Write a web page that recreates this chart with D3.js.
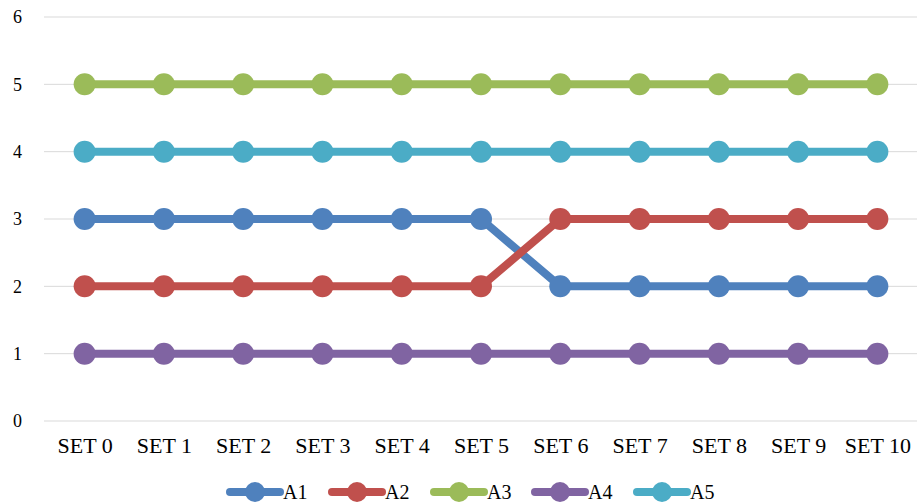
<!DOCTYPE html>
<html>
<head>
<meta charset="utf-8">
<script src="https://cdn.jsdelivr.net/npm/d3@7"></script>
<style>
  body { margin: 0; background: #fff; }
  svg text { font-family: 'Liberation Serif', 'Times New Roman', Times, serif; }
</style>
</head>
<body>
<svg id="chart"></svg>
<script>
const categories = ['SET 0','SET 1','SET 2','SET 3','SET 4','SET 5','SET 6','SET 7','SET 8','SET 9','SET 10'];
const seriesNames = ['A1','A2','A3','A4','A5'];
const a1 = [3,3,3,3,3,3,2,2,2,2,2];
const a2 = [2,2,2,2,2,2,3,3,3,3,3];
const a3 = [5,5,5,5,5,5,5,5,5,5,5];
const a4 = [1,1,1,1,1,1,1,1,1,1,1];
const a5 = [4,4,4,4,4,4,4,4,4,4,4];
const yTicks = [0,1,2,3,4,5,6];
const colors = ['#4F81BD','#C0504D','#9BBB59','#8064A2','#4BACC6'];

const series = [a1,a2,a3,a4,a5].map((v,i) => ({name: seriesNames[i], values: v, color: colors[i]}));

const w = 917, h = 504;
const plotLeft = 45, plotRight = 917, plotTop = 17, plotBottom = 421;
const serif = "'Liberation Serif', 'Times New Roman', serif";

const svg = d3.select('#chart').attr('width', w).attr('height', h)
  .attr('font-family', serif);

const x = d3.scalePoint().domain(categories).range([plotLeft, plotRight]).padding(0.5);
const y = d3.scaleLinear().domain([0, 6]).range([plotBottom, plotTop]);

// gridlines
svg.append('g').selectAll('line')
  .data(yTicks)
  .enter().append('line')
  .attr('x1', plotLeft - 1).attr('x2', plotRight)
  .attr('y1', d => y(d)).attr('y2', d => y(d))
  .attr('stroke', '#d9d9d9').attr('stroke-width', 1);

// y axis labels
const yAxis = d3.axisLeft(y).tickValues(yTicks).tickSize(0).tickPadding(0).tickFormat(d3.format('d'));
svg.append('g')
  .attr('transform', 'translate(22,0)')
  .call(yAxis)
  .attr('font-family', serif)
  .call(g => g.select('.domain').remove())
  .selectAll('text')
  .attr('font-size', 18).attr('fill', '#000');

// x axis labels
const xAxis = d3.axisBottom(x).tickSize(0).tickPadding(0);
svg.append('g')
  .attr('transform', `translate(0,${plotBottom + 16})`)
  .call(xAxis)
  .attr('font-family', serif)
  .call(g => g.select('.domain').remove())
  .selectAll('text')
  .attr('font-size', 22).attr('fill', '#000');

// lines and markers
const line = d3.line().x((d,i) => x(categories[i])).y(d => y(d));
series.forEach(s => {
  const g = svg.append('g');
  g.append('path')
    .attr('d', line(s.values))
    .attr('fill', 'none')
    .attr('stroke', s.color)
    .attr('stroke-width', 8)
    .attr('stroke-linejoin', 'round');
  g.selectAll('circle')
    .data(s.values)
    .enter().append('circle')
    .attr('cx', (d,i) => x(categories[i]))
    .attr('cy', d => y(d))
    .attr('r', 11)
    .attr('fill', s.color);
});

// legend
const legendX = [227, 329, 431, 532, 634];
const legendY = 492;
const lg = svg.append('g');
series.forEach((s, i) => {
  const gx = legendX[i];
  lg.append('line')
    .attr('x1', gx + 3).attr('x2', gx + 53)
    .attr('y1', legendY).attr('y2', legendY)
    .attr('stroke', s.color).attr('stroke-width', 8).attr('stroke-linecap', 'round');
  lg.append('circle')
    .attr('cx', gx + 28).attr('cy', legendY).attr('r', 10)
    .attr('fill', s.color);
  lg.append('text')
    .attr('x', gx + 56).attr('y', legendY + 7)
    .attr('font-size', 20).attr('fill', '#000')
    .text(s.name);
});
</script>
</body>
</html>
